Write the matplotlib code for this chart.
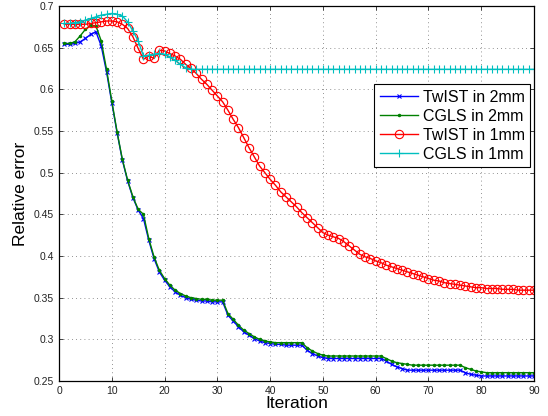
import matplotlib
matplotlib.use("Agg")
import matplotlib.pyplot as plt

plt.rcParams['font.family'] = ['Liberation Sans', 'DejaVu Sans']

iterations = list(range(1, 91))

# TwIST, 2mm (blue x)
twist_2mm = [0.654, 0.654, 0.655, 0.657, 0.661, 0.666, 0.669, 0.652, 0.621, 0.584,
             0.548, 0.515, 0.490, 0.470, 0.455, 0.445, 0.419, 0.397, 0.381, 0.371,
             0.363, 0.357, 0.353, 0.350, 0.348, 0.347, 0.346, 0.346, 0.345, 0.345,
             0.345, 0.329, 0.322, 0.315, 0.309, 0.305, 0.301, 0.298, 0.296, 0.295,
             0.294, 0.294, 0.293, 0.293, 0.293, 0.293, 0.287, 0.283, 0.280, 0.278,
             0.277, 0.277, 0.277, 0.277, 0.277, 0.277, 0.277, 0.277, 0.277, 0.277,
             0.277, 0.274, 0.270, 0.267, 0.265, 0.263, 0.263, 0.263, 0.263, 0.263,
             0.263, 0.263, 0.263, 0.263, 0.263, 0.263, 0.260, 0.258, 0.257, 0.256,
             0.256, 0.256, 0.256, 0.256, 0.256, 0.256, 0.256, 0.256, 0.256, 0.256]

# CGLS, 2mm (green dots)
cgls_2mm = [0.655, 0.655, 0.657, 0.664, 0.672, 0.677, 0.676, 0.658, 0.624, 0.586,
            0.549, 0.516, 0.491, 0.471, 0.456, 0.450, 0.421, 0.399, 0.383, 0.373,
            0.365, 0.359, 0.355, 0.352, 0.350, 0.349, 0.348, 0.348, 0.347, 0.347,
            0.347, 0.331, 0.324, 0.317, 0.311, 0.307, 0.303, 0.300, 0.298, 0.297,
            0.296, 0.296, 0.296, 0.296, 0.296, 0.296, 0.290, 0.286, 0.283, 0.281,
            0.280, 0.280, 0.280, 0.280, 0.280, 0.280, 0.280, 0.280, 0.280, 0.280,
            0.280, 0.277, 0.274, 0.272, 0.271, 0.270, 0.269, 0.269, 0.269, 0.269,
            0.269, 0.269, 0.269, 0.269, 0.269, 0.269, 0.266, 0.264, 0.262, 0.261,
            0.260, 0.260, 0.260, 0.260, 0.260, 0.260, 0.260, 0.260, 0.260, 0.260]

# TwIST, 1mm (red circles)
twist_1mm = [0.678, 0.678, 0.678, 0.678, 0.678, 0.679, 0.680, 0.681, 0.682, 0.682,
             0.681, 0.678, 0.673, 0.663, 0.649, 0.636, 0.640, 0.637, 0.647, 0.646,
             0.643, 0.640, 0.636, 0.630, 0.625, 0.619, 0.612, 0.606, 0.599, 0.592,
             0.585, 0.575, 0.564, 0.554, 0.542, 0.530, 0.519, 0.508, 0.500, 0.492,
             0.485, 0.477, 0.471, 0.465, 0.459, 0.452, 0.446, 0.440, 0.434, 0.428,
             0.425, 0.423, 0.421, 0.417, 0.412, 0.407, 0.402, 0.399, 0.397, 0.394,
             0.392, 0.389, 0.387, 0.385, 0.383, 0.381, 0.379, 0.377, 0.375, 0.373,
             0.371, 0.370, 0.368, 0.367, 0.366, 0.365, 0.364, 0.363, 0.362, 0.362,
             0.361, 0.361, 0.361, 0.360, 0.360, 0.360, 0.359, 0.359, 0.359, 0.359]

# CGLS, 1mm (cyan plus)
cgls_1mm = [0.679, 0.679, 0.680, 0.681, 0.683, 0.685, 0.687, 0.689, 0.690, 0.691,
            0.690, 0.688, 0.681, 0.670, 0.658, 0.640, 0.641, 0.642, 0.643, 0.642,
            0.639, 0.635, 0.630, 0.626, 0.624, 0.624, 0.624, 0.624, 0.624, 0.624,
            0.624, 0.624, 0.624, 0.624, 0.624, 0.624, 0.624, 0.624, 0.624, 0.624,
            0.624, 0.624, 0.624, 0.624, 0.624, 0.624, 0.624, 0.624, 0.624, 0.624,
            0.624, 0.624, 0.624, 0.624, 0.624, 0.624, 0.624, 0.624, 0.624, 0.624,
            0.624, 0.624, 0.624, 0.624, 0.624, 0.624, 0.624, 0.624, 0.624, 0.624,
            0.624, 0.624, 0.624, 0.624, 0.624, 0.624, 0.624, 0.624, 0.624, 0.624,
            0.624, 0.624, 0.624, 0.624, 0.624, 0.624, 0.624, 0.624, 0.624, 0.624]

x_ticks = [0, 10, 20, 30, 40, 50, 60, 70, 80, 90]
y_ticks = [0.25, 0.3, 0.35, 0.4, 0.45, 0.5, 0.55, 0.6, 0.65, 0.7]
y_tick_labels = ['0.25', '0.3', '0.35', '0.4', '0.45', '0.5', '0.55', '0.6', '0.65', '0.7']

fig = plt.figure(figsize=(5.48, 4.16), dpi=100)
ax = fig.add_axes([0.1077, 0.0841, 0.8668, 0.9015])

ax.plot(iterations, twist_2mm, color='#0000ff', marker='x', markersize=3.5,
        markeredgewidth=0.8, linewidth=1.0, label='TwIST in 2mm')
ax.plot(iterations, cgls_2mm, color='#008000', marker='.', markersize=3,
        linewidth=1.0, label='CGLS in 2mm')
ax.plot(iterations, twist_1mm, color='#ff0000', marker='o', markersize=6,
        markerfacecolor='none', markeredgewidth=0.8, linewidth=1.0, label='TwIST in 1mm')
ax.plot(iterations, cgls_1mm, color='#00bfbf', marker='+', markersize=5.5,
        markeredgewidth=0.8, linewidth=1.0, label='CGLS in 1mm')

ax.set_xlim(0, 90)
ax.set_ylim(0.25, 0.7)
ax.set_xticks(x_ticks)
ax.set_yticks(y_ticks)
ax.set_yticklabels(y_tick_labels)
ax.tick_params(direction='in', top=True, right=True, labelsize=7.5, length=3, width=0.6,
               colors='#222222')
ax.grid(True, linestyle=(0, (1, 4)), color='#707070', linewidth=0.6)
for s in ax.spines.values():
    s.set_linewidth(0.9)

ax.set_xlabel('Iteration', fontsize=12.5, labelpad=0)
ax.set_ylabel('Relative error', fontsize=12.5, labelpad=4)

leg = ax.legend(loc='upper right', bbox_to_anchor=(0.992, 0.792), fontsize=11.5,
                fancybox=False, framealpha=1, edgecolor='black',
                borderpad=0.35, labelspacing=0.25, handlelength=2.4, handletextpad=0.3,
                borderaxespad=0)
leg.get_frame().set_linewidth(0.8)

fig.savefig('out.png', dpi=100)
